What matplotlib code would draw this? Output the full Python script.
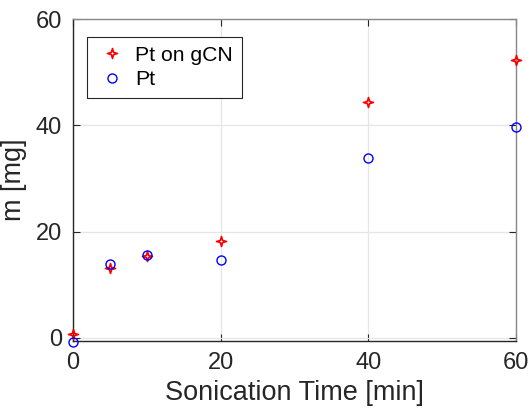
import numpy as np
import matplotlib
matplotlib.use("Agg")
import matplotlib.pyplot as plt
from matplotlib.path import Path

plt.rcParams['font.family'] = ['Liberation Sans', 'DejaVu Sans']

# Sonication time [min] and mass [mg]
time_min = [0, 5, 10, 20, 40, 60]
m_pt_gcn = [0.75, 13.2, 15.4, 18.3, 44.3, 52.2]
m_pt = [-0.7, 13.9, 15.6, 14.7, 33.8, 39.6]
x_ticks = [0, 20, 40, 60]
y_ticks = [0, 20, 40, 60]

# four-pointed star marker
star_verts = [(0, 1), (0.22, 0.22), (1, 0), (0.22, -0.22), (0, -1),
              (-0.22, -0.22), (-1, 0), (-0.22, 0.22), (0, 1)]
star_codes = [Path.MOVETO] + [Path.LINETO] * 7 + [Path.CLOSEPOLY]
star = Path(star_verts, star_codes)

W, H = 532, 415
fig = plt.figure(figsize=(W / 100, H / 100), dpi=100)
ax = fig.add_axes([73 / W, (H - 341) / H, (516 - 73) / W, (341 - 19) / H])

ax.plot(time_min, m_pt_gcn, linestyle='none', marker=star, markersize=7.2,
        markerfacecolor='none', markeredgecolor='red', markeredgewidth=1.2,
        label='Pt on gCN', clip_on=False, zorder=3)
ax.plot(time_min, m_pt, linestyle='none', marker='o', markersize=6.5,
        markerfacecolor='none', markeredgecolor='blue', markeredgewidth=1.0,
        label='Pt', clip_on=False, zorder=3)

ax.set_xlim(0, 60)
ax.set_ylim(-0.6, 60)
ax.set_xticks(x_ticks)
ax.set_yticks(y_ticks)
ax.grid(True, color='#e6e6e6', linewidth=0.9)
ax.set_axisbelow(True)

dark = '#262626'
ax.tick_params(direction='in', length=5, width=0.8, colors=dark,
               labelsize=17, top=True, right=True, pad=8)
for side in ['left', 'bottom']:
    ax.spines[side].set_color(dark)
    ax.spines[side].set_linewidth(1.0)
for side in ['top', 'right']:
    ax.spines[side].set_color('#888888')
    ax.spines[side].set_linewidth(1.0)

ax.set_xlabel('Sonication Time [min]', fontsize=19.5, color=dark, labelpad=4)
ax.set_ylabel('m [mg]', fontsize=19.5, color=dark, labelpad=6)

leg = ax.legend(loc='upper left', bbox_to_anchor=(14 / 443, 1 - 18 / 322),
                fontsize=15.2, frameon=True, fancybox=False,
                edgecolor=dark, framealpha=1, borderpad=0.42,
                handletextpad=0.3, labelspacing=0.25, borderaxespad=0,
                handlelength=1.55)
leg.get_frame().set_linewidth(0.8)

fig.savefig('out.png', dpi=100)
